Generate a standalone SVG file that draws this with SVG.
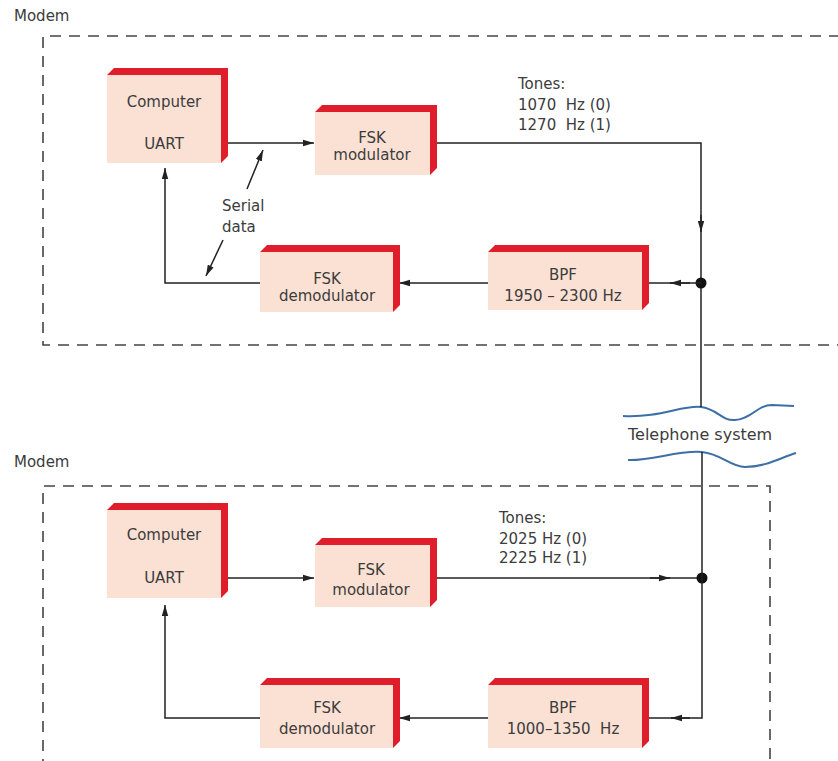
<svg xmlns="http://www.w3.org/2000/svg" width="838" height="761" viewBox="0 0 838 761">
<defs>
<marker id="ah" markerUnits="userSpaceOnUse" markerWidth="11" markerHeight="8" refX="11" refY="4" orient="auto">
<path d="M0,0.8 L11,4 L0,7.2 z" fill="#222"/>
</marker>
<style>
text{font-family:"DejaVu Sans","Liberation Sans",sans-serif;font-size:15px;fill:#3c3c3c}
.c{text-anchor:middle}
.face{fill:#fbe1d4}
.red{fill:#e01e2b}
.ln{fill:none;stroke:#222;stroke-width:1.5}
.dash{fill:none;stroke:#444;stroke-width:1.6;stroke-dasharray:11 8}
.wave{fill:none;stroke:#3d6fa6;stroke-width:2}
</style>
</defs>
<rect width="838" height="761" fill="#fff"/>

<g id="frames">
<path class="dash" d="M840,36 H43 V345 H840"/>
<path class="dash" d="M43,770 V486 H770 V770"/>
<text x="14" y="21">Modem</text>
<text x="14" y="467">Modem</text>
</g>

<g id="telephone">
<path class="wave" d="M623,416 C660,418 682,405 701,407 C718,409 721,421 735,420 C752,419 757,405 772,405 L794,406"/>
<path class="wave" d="M628,460 C652,461 678,450 702,452 C722,454 730,467 745,467 C765,467 780,458 796,453"/>
<text x="628" y="440" style="font-size:16px">Telephone system</text>
</g>

<g id="connectors">
<path class="ln" d="M228,143 H314" marker-end="url(#ah)"/>
<path class="ln" d="M437,143 H701 V407"/>
<path class="ln" d="M701,215 V232" marker-end="url(#ah)"/>
<circle cx="701" cy="283" r="5.5" fill="#111"/>
<path class="ln" d="M701,283 H649"/>
<path class="ln" d="M690,283 H670" marker-end="url(#ah)"/>
<path class="ln" d="M488,283 H399" marker-end="url(#ah)"/>
<path class="ln" d="M260,283 H165 V168" marker-end="url(#ah)"/>
<path class="ln" d="M247,189 L263,150" stroke-width="1.2" marker-end="url(#ah)"/>
<path class="ln" d="M223,240 L206,276" stroke-width="1.2" marker-end="url(#ah)"/>
<path class="ln" d="M228,578 H314" marker-end="url(#ah)"/>
<path class="ln" d="M437,578 H702"/>
<path class="ln" d="M650,578 H670" marker-end="url(#ah)"/>
<circle cx="702" cy="578" r="5.5" fill="#111"/>
<path class="ln" d="M702,452 V718 H649"/>
<path class="ln" d="M690,718 H671" marker-end="url(#ah)"/>
<path class="ln" d="M488,718 H399" marker-end="url(#ah)"/>
<path class="ln" d="M260,718 H165 V605" marker-end="url(#ah)"/>
</g>

<g id="labels">
<text x="222" y="211">Serial</text>
<text x="222" y="232">data</text>
<text x="518" y="89">Tones:</text>
<text x="518" y="110" xml:space="preserve">1070  Hz (0)</text>
<text x="518" y="130" xml:space="preserve">1270  Hz (1)</text>
<text x="499" y="523">Tones:</text>
<text x="499" y="544">2025 Hz (0)</text>
<text x="499" y="563">2225 Hz (1)</text>
</g>

<g id="uart1">
<polygon class="red" points="107,75 114,68 228,68 228,156 221,163 221,75"/>
<rect class="face" x="107" y="75" width="114" height="88"/>
<text class="c" x="164" y="107">Computer</text>
<text class="c" x="164" y="149">UART</text>
</g>
<g id="mod1">
<polygon class="red" points="315,112 322,105 437,105 437,168 430,175 430,112"/>
<rect class="face" x="315" y="112" width="115" height="63"/>
<text class="c" x="372" y="143">FSK</text>
<text class="c" x="372" y="160">modulator</text>
</g>
<g id="demod1">
<polygon class="red" points="260,252 267,245 400,245 400,305 393,312 393,252"/>
<rect class="face" x="260" y="252" width="133" height="60"/>
<text class="c" x="327" y="284">FSK</text>
<text class="c" x="327" y="301">demodulator</text>
</g>
<g id="bpf1">
<polygon class="red" points="488,252 495,245 649,245 649,303 642,310 642,252"/>
<rect class="face" x="488" y="252" width="154" height="58"/>
<text class="c" x="563" y="280">BPF</text>
<text class="c" x="563" y="301">1950 – 2300 Hz</text>
</g>

<g id="uart2">
<polygon class="red" points="107,510 114,503 228,503 228,591 221,598 221,510"/>
<rect class="face" x="107" y="510" width="114" height="88"/>
<text class="c" x="164" y="540">Computer</text>
<text class="c" x="164" y="583">UART</text>
</g>
<g id="mod2">
<polygon class="red" points="315,545 322,538 437,538 437,600 430,607 430,545"/>
<rect class="face" x="315" y="545" width="115" height="62"/>
<text class="c" x="371" y="575">FSK</text>
<text class="c" x="371" y="595">modulator</text>
</g>
<g id="demod2">
<polygon class="red" points="260,685 267,678 400,678 400,741 393,748 393,685"/>
<rect class="face" x="260" y="685" width="133" height="63"/>
<text class="c" x="327" y="713">FSK</text>
<text class="c" x="327" y="734">demodulator</text>
</g>
<g id="bpf2">
<polygon class="red" points="488,685 495,678 649,678 649,741 642,748 642,685"/>
<rect class="face" x="488" y="685" width="154" height="63"/>
<text class="c" x="563" y="713">BPF</text>
<text class="c" x="563" y="734" xml:space="preserve">1000–1350  Hz</text>
</g>
</svg>
